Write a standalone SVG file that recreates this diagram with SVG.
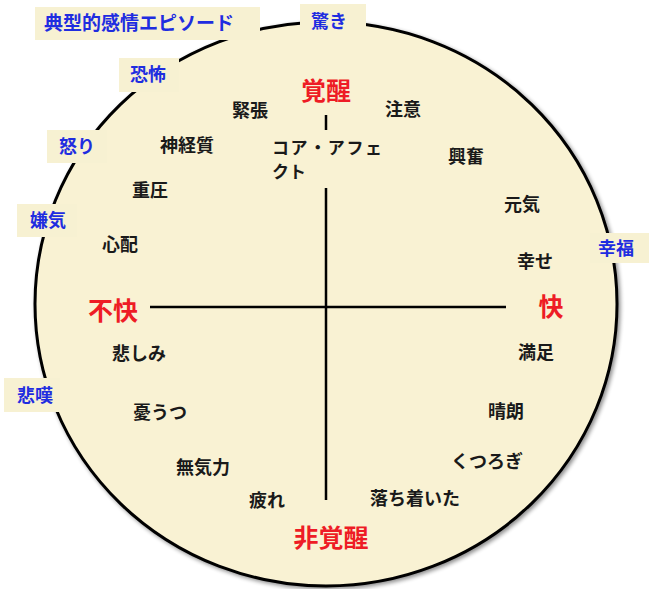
<svg xmlns="http://www.w3.org/2000/svg" width="649" height="589" viewBox="0 0 649 589">
<defs>
<filter id="sh" x="-10%" y="-10%" width="120%" height="120%">
<feGaussianBlur in="SourceAlpha" stdDeviation="2"/>
<feOffset dx="1.5" dy="2" result="b"/>
<feComponentTransfer><feFuncA type="linear" slope="0.45"/></feComponentTransfer>
<feMerge><feMergeNode/><feMergeNode in="SourceGraphic"/></feMerge>
</filter>
<style>
text{font-family:"Noto Sans CJK JP","Noto Sans CJK SC",sans-serif;font-weight:bold;dominant-baseline:central}
.k{font-size:18px;fill:#1a1a1a;text-anchor:middle}
.r{font-size:25px;fill:#ee1c25;text-anchor:middle}
.b{font-size:18px;fill:#1f2de0;text-anchor:middle}
.box{fill:#f7f1d2}
.ax{stroke:#000;stroke-width:2.5;fill:none}
</style>
</defs>
<rect width="649" height="589" fill="#fff"/>
<g id="circle">
<ellipse cx="326" cy="304" rx="291" ry="282" fill="#f9f2d3" stroke="#000" stroke-width="3" filter="url(#sh)"/>
</g>
<g id="connectors">
<line class="ax" x1="326" y1="115" x2="326" y2="130"/>
<line class="ax" x1="326" y1="188" x2="326" y2="500"/>
<line class="ax" x1="150" y1="307" x2="506" y2="307"/>
</g>
<g id="axis-labels">
<text class="r" x="326" y="89">覚醒</text>
<text class="r" x="331" y="536">非覚醒</text>
<text class="r" x="113" y="309">不快</text>
<text class="r" x="551" y="305">快</text>
</g>
<g id="core-affect">
<text style="font-size:17px;fill:#1a1a1a" x="272" y="146" textLength="110" lengthAdjust="spacing">コア・アフェ</text>
<text style="font-size:17px;fill:#1a1a1a" x="272" y="170">クト</text>
</g>
<g id="affects">
<text class="k" x="250" y="109">緊張</text>
<text class="k" x="403" y="108">注意</text>
<text class="k" x="466" y="155">興奮</text>
<text class="k" x="522" y="203">元気</text>
<text class="k" x="535" y="260">幸せ</text>
<text class="k" x="187" y="144">神経質</text>
<text class="k" x="150" y="189">重圧</text>
<text class="k" x="120" y="243">心配</text>
<text class="k" x="139" y="352">悲しみ</text>
<text class="k" x="160" y="411">憂うつ</text>
<text class="k" x="203" y="466">無気力</text>
<text class="k" x="267" y="499">疲れ</text>
<text class="k" x="536" y="351">満足</text>
<text class="k" x="506" y="410">晴朗</text>
<text class="k" x="487" y="460">くつろぎ</text>
<text class="k" x="415" y="497">落ち着いた</text>
</g>
<g id="episodes">
<g id="ep-title"><rect class="box" x="35" y="7" width="225" height="33"/><text class="b" x="139" y="21" style="font-size:19px">典型的感情エピソード</text></g>
<g id="ep-odoroki"><rect class="box" x="300" y="4" width="66" height="26"/><text class="b" x="329" y="20">驚き</text></g>
<g id="ep-kyofu"><rect class="box" x="119" y="58" width="60" height="34"/><text class="b" x="148" y="73">恐怖</text></g>
<g id="ep-ikari"><rect class="box" x="47" y="130" width="60" height="33"/><text class="b" x="77" y="145">怒り</text></g>
<g id="ep-iyake"><rect class="box" x="17" y="204" width="60" height="33"/><text class="b" x="48" y="219">嫌気</text></g>
<g id="ep-hitan"><rect class="box" x="4" y="378" width="56" height="34"/><text class="b" x="35" y="394">悲嘆</text></g>
<g id="ep-kofuku"><rect class="box" x="590" y="233" width="59" height="30"/><text class="b" x="616" y="247">幸福</text></g>
</g>
</svg>
